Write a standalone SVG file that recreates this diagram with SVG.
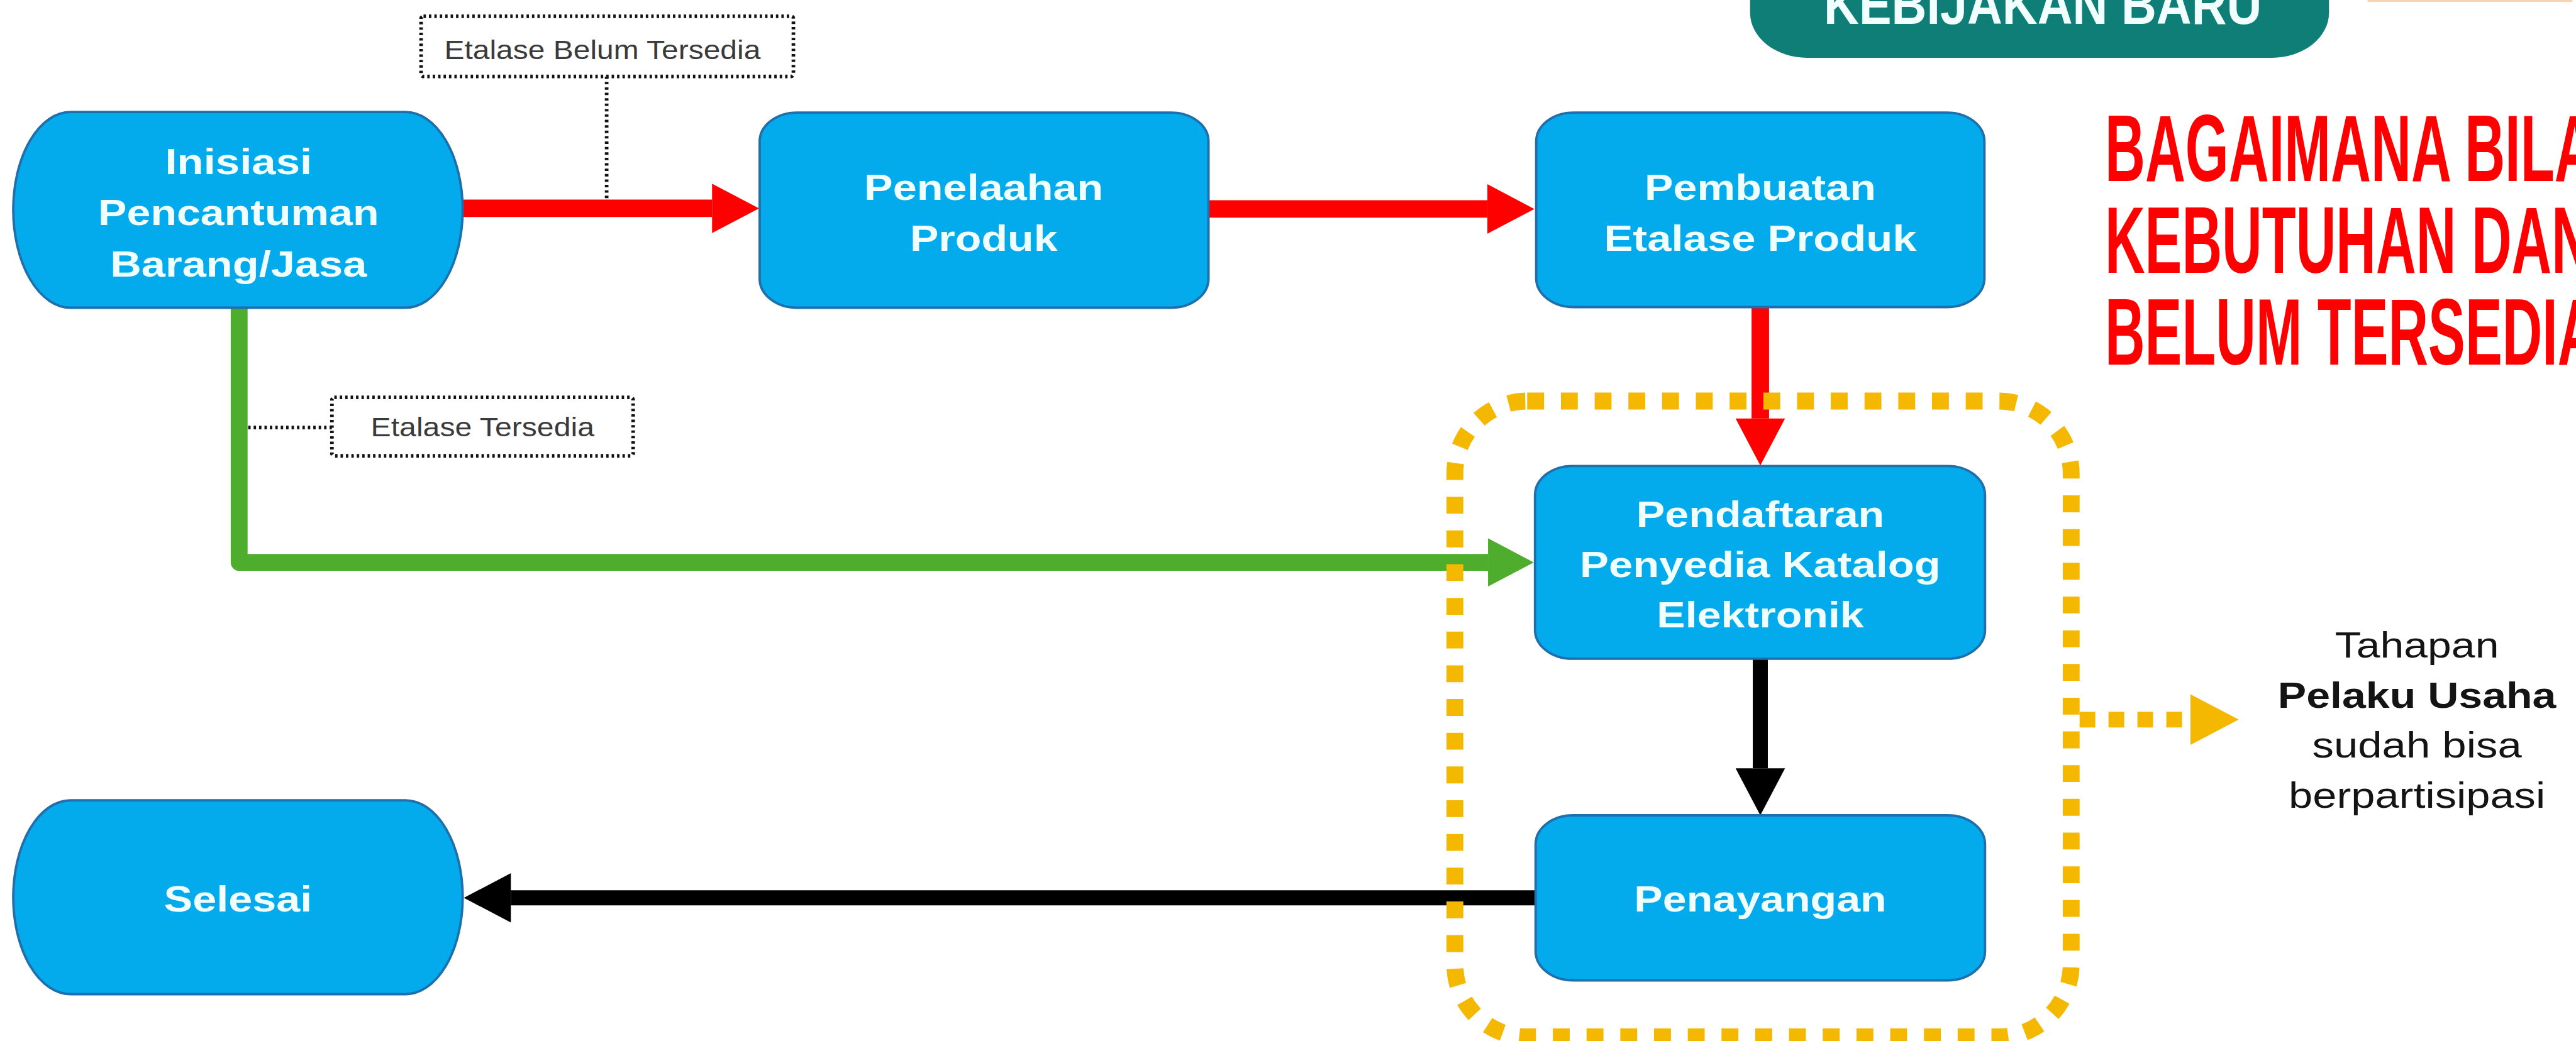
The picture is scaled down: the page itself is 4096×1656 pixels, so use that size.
<svg xmlns="http://www.w3.org/2000/svg" width="4096" height="1656" viewBox="0 0 4096 1656">
  <style>
    .node { fill: #03ABEC; stroke: #1F6FAD; stroke-width: 4; }
    .nt { font-family: "Liberation Sans", Arial, sans-serif; font-weight: bold; font-size: 60px; fill: #F0FFFF; text-anchor: middle; }
    .lbl { fill: #FFFFFF; stroke: #111111; stroke-width: 6; stroke-dasharray: 4 5; }
    .lt { font-family: "Liberation Sans", Arial, sans-serif; font-size: 45px; fill: #3A3A3A; text-anchor: middle; }
    .dot { fill: none; stroke: #111111; stroke-width: 6; stroke-dasharray: 4 5; }
    .red { fill: none; stroke: #FF0000; stroke-width: 29; }
    .green { fill: none; stroke: #4FAD2E; stroke-width: 28; stroke-linejoin: round; }
    .black { fill: none; stroke: #000000; stroke-width: 25; }
    .frame { fill: none; stroke: #F4B800; stroke-width: 28; stroke-dasharray: 28 28; }
    .ylw { fill: none; stroke: #F4B800; stroke-width: 26; stroke-dasharray: 26 22; }
    .side { font-family: "Liberation Sans", Arial, sans-serif; font-size: 60px; fill: #141414; text-anchor: middle; }
    .title { font-family: "Liberation Sans Narrow", "Liberation Sans", Arial, sans-serif; font-weight: bold; font-size: 156px; fill: #FF0000; }
  </style>
  <defs>
    <marker id="head-red" markerUnits="userSpaceOnUse" markerWidth="80" markerHeight="82" refX="0" refY="41" orient="auto" overflow="visible">
      <path d="M0,0 L78,41 L0,82 Z" fill="#FF0000"/>
    </marker>
    <marker id="head-green" markerUnits="userSpaceOnUse" markerWidth="80" markerHeight="80" refX="0" refY="40" orient="auto" overflow="visible">
      <path d="M0,0 L76,40 L0,80 Z" fill="#4FAD2E"/>
    </marker>
    <marker id="head-black" markerUnits="userSpaceOnUse" markerWidth="80" markerHeight="82" refX="0" refY="41" orient="auto" overflow="visible">
      <path d="M0,0 L78,41 L0,82 Z" fill="#000000"/>
    </marker>
    <marker id="head-yellow" markerUnits="userSpaceOnUse" markerWidth="82" markerHeight="84" refX="0" refY="42" orient="auto" overflow="visible">
      <path d="M0,0 L80,42 L0,84 Z" fill="#F4B800"/>
    </marker>
  </defs>

  <rect x="0" y="0" width="4096" height="1656" fill="#FFFFFF"/>

  <g transform="scale(0.95791)">

    <!-- header badge and heading -->
    <g id="badge-kebijakan">
      <rect x="2905" y="-150" width="961" height="246" rx="95" ry="75" fill="#0F7E77"/>
      <text x="3391" y="40" font-family="'Liberation Sans', Arial, sans-serif" font-weight="bold" font-size="92" fill="#F2FFFF" text-anchor="middle" textLength="727" lengthAdjust="spacingAndGlyphs">KEBIJAKAN BARU</text>
    </g>
    <rect x="3930" y="0" width="340" height="3" fill="#F8D2AE"/>

    <g id="heading">
      <text class="title" x="3494" y="301" textLength="813" lengthAdjust="spacingAndGlyphs">BAGAIMANA BILA</text>
      <text class="title" x="3494" y="453" textLength="808" lengthAdjust="spacingAndGlyphs">KEBUTUHAN DAN</text>
      <text class="title" x="3494" y="605" textLength="818" lengthAdjust="spacingAndGlyphs">BELUM TERSEDIA</text>
    </g>

    <!-- connectors -->
    <g id="connectors">
      <path class="red" d="M769,346 H1182" marker-end="url(#head-red)"/>
      <path class="red" d="M2006,347 H2469" marker-end="url(#head-red)"/>
      <path class="red" d="M2922,510 V695" marker-end="url(#head-red)"/>
      <path class="green" d="M397,511 V934 H2470" marker-end="url(#head-green)"/>
      <path class="black" d="M2922,1094 V1276" marker-end="url(#head-black)"/>
      <path class="black" d="M2549,1491 H848" marker-end="url(#head-black)"/>
      <path class="dot" d="M1007,127 V333"/>
      <path class="dot" d="M412,710 H551"/>
      <path class="ylw" d="M3452,1195 H3636" marker-end="url(#head-yellow)"/>
    </g>

    <!-- participation frame -->
    <g id="frame-pelaku">
      <rect class="frame" x="2415" y="666" width="1023" height="1056" rx="120" ry="120"/>
    </g>

    <!-- condition labels -->
    <g id="label-belum">
      <rect class="lbl" x="699" y="27" width="618" height="100" rx="4"/>
      <text class="lt" x="1000" y="98" textLength="525" lengthAdjust="spacingAndGlyphs">Etalase Belum Tersedia</text>
    </g>
    <g id="label-tersedia">
      <rect class="lbl" x="551" y="660" width="500" height="97" rx="4"/>
      <text class="lt" x="801" y="725" textLength="371" lengthAdjust="spacingAndGlyphs">Etalase Tersedia</text>
    </g>

    <!-- process nodes -->
    <g id="node-inisiasi">
      <path class="node" d="M117,186 H673 A95,162.5 0 0 1 673,511 H117 A95,162.5 0 0 1 117,186 Z"/>
      <text class="nt" x="396" y="289" textLength="244" lengthAdjust="spacingAndGlyphs">Inisiasi</text>
      <text class="nt" x="396" y="374" textLength="466" lengthAdjust="spacingAndGlyphs">Pencantuman</text>
      <text class="nt" x="396" y="459" textLength="426" lengthAdjust="spacingAndGlyphs">Barang/Jasa</text>
    </g>

    <g id="node-penelaahan">
      <rect class="node" x="1261" y="187" width="745" height="324" rx="62" ry="48"/>
      <text class="nt" x="1633" y="332" textLength="397" lengthAdjust="spacingAndGlyphs">Penelaahan</text>
      <text class="nt" x="1633" y="417" textLength="245" lengthAdjust="spacingAndGlyphs">Produk</text>
    </g>

    <g id="node-pembuatan">
      <rect class="node" x="2550" y="187" width="744" height="323" rx="62" ry="48"/>
      <text class="nt" x="2922" y="332" textLength="384" lengthAdjust="spacingAndGlyphs">Pembuatan</text>
      <text class="nt" x="2922" y="417" textLength="519" lengthAdjust="spacingAndGlyphs">Etalase Produk</text>
    </g>

    <g id="node-pendaftaran">
      <rect class="node" x="2548" y="774" width="747" height="320" rx="62" ry="48"/>
      <text class="nt" x="2922" y="875" textLength="412" lengthAdjust="spacingAndGlyphs">Pendaftaran</text>
      <text class="nt" x="2922" y="958" textLength="599" lengthAdjust="spacingAndGlyphs">Penyedia Katalog</text>
      <text class="nt" x="2922" y="1042" textLength="344" lengthAdjust="spacingAndGlyphs">Elektronik</text>
    </g>

    <g id="node-penayangan">
      <rect class="node" x="2549" y="1354" width="746" height="274" rx="62" ry="48"/>
      <text class="nt" x="2922" y="1514" textLength="419" lengthAdjust="spacingAndGlyphs">Penayangan</text>
    </g>

    <g id="node-selesai">
      <path class="node" d="M117,1329 H673 A95,161 0 0 1 673,1651 H117 A95,161 0 0 1 117,1329 Z"/>
      <text class="nt" x="395" y="1514" textLength="246" lengthAdjust="spacingAndGlyphs">Selesai</text>
    </g>

    <!-- side note -->
    <g id="note-pelaku">
      <text class="side" x="4012" y="1092" textLength="272" lengthAdjust="spacingAndGlyphs">Tahapan</text>
      <text class="side" x="4012" y="1175" font-weight="bold" textLength="462" lengthAdjust="spacingAndGlyphs">Pelaku Usaha</text>
      <text class="side" x="4012" y="1258" textLength="348" lengthAdjust="spacingAndGlyphs">sudah bisa</text>
      <text class="side" x="4012" y="1341" textLength="426" lengthAdjust="spacingAndGlyphs">berpartisipasi</text>
    </g>
  </g>
</svg>
